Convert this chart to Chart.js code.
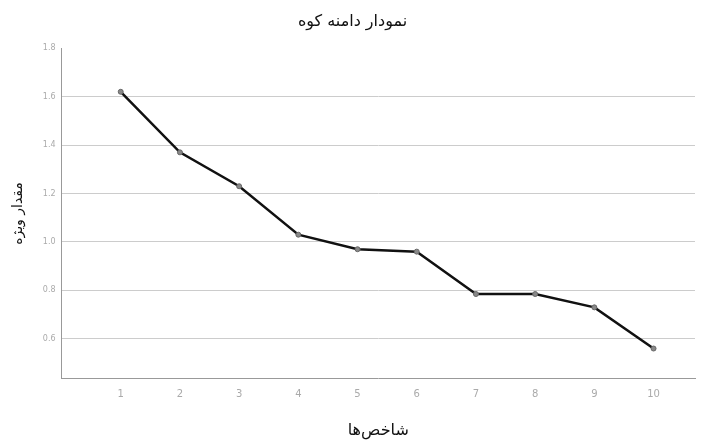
<!DOCTYPE html>
<html>
<head>
<meta charset="utf-8">
<script src="https://cdn.jsdelivr.net/npm/chart.js@4/dist/chart.umd.min.js"></script>
<style>
  html, body { margin: 0; padding: 0; background: #fff; }
  #wrap { width: 709px; height: 443px; }
</style>
</head>
<body>
<div id="wrap"><canvas id="screeChart"></canvas></div>
<script>
const components = [1, 2, 3, 4, 5, 6, 7, 8, 9, 10];
const eigenvalues = [1.62, 1.37, 1.23, 1.03, 0.97, 0.96, 0.785, 0.785, 0.73, 0.56];
const yTicks = [0.6, 0.8, 1.0, 1.2, 1.4, 1.6, 1.8];

const screeChart = document.getElementById('screeChart');

new Chart(screeChart, {
    type: 'line',
    data: {
        datasets: [{
            label: 'مقدار ویژه',
            data: components.map((c, i) => ({ x: c, y: eigenvalues[i] })),
            borderColor: '#111',
            borderWidth: 2.5,
            pointRadius: 2.5,
            pointBackgroundColor: '#888',
            pointBorderColor: '#666',
            pointBorderWidth: 1,
            tension: 0
        }]
    },
    options: {
        responsive: true,
        maintainAspectRatio: false,
        animation: false,
        layout: { padding: { left: 10, right: 14, top: 10, bottom: 3 } },
        plugins: {
            legend: { display: false },
            tooltip: { enabled: false },
            title: {
                display: true,
                text: 'نمودار دامنه کوه',
                color: '#111',
                font: { family: 'DejaVu Sans', size: 16, weight: 'normal' },
                padding: { top: 2, bottom: 17 }
            }
        },
        scales: {
            x: {
                type: 'linear',
                min: 0,
                max: 10.7,
                afterBuildTicks: axis => { axis.ticks = components.map(v => ({ value: v })); },
                grid: { display: false, drawTicks: false },
                border: { display: true, color: '#999', width: 1 },
                ticks: {
                    color: '#aaa',
                    font: { family: 'DejaVu Sans', size: 10 },
                    padding: 10
                },
                title: {
                    display: true,
                    text: 'شاخص‌ها',
                    color: '#111',
                    font: { family: 'DejaVu Sans', size: 16 },
                    padding: { top: 10, bottom: 0 }
                }
            },
            y: {
                min: 0.435,
                max: 1.8,
                afterBuildTicks: axis => { axis.ticks = yTicks.map(v => ({ value: v })); },
                grid: {
                    color: ctx => (ctx.tick && ctx.tick.value === 1.8) ? 'rgba(0,0,0,0)' : '#ccc',
                    lineWidth: 1,
                    drawTicks: false
                },
                border: { display: true, color: '#999', width: 1 },
                ticks: {
                    color: '#aaa',
                    font: { family: 'DejaVu Sans', size: 8 },
                    padding: 6,
                    callback: v => v.toFixed(1)
                },
                title: {
                    display: true,
                    text: 'مقدار ویژه',
                    color: '#111',
                    font: { family: 'DejaVu Sans', size: 14 },
                    padding: { top: 0, bottom: 10 }
                }
            }
        }
    }
});
</script>
</body>
</html>
